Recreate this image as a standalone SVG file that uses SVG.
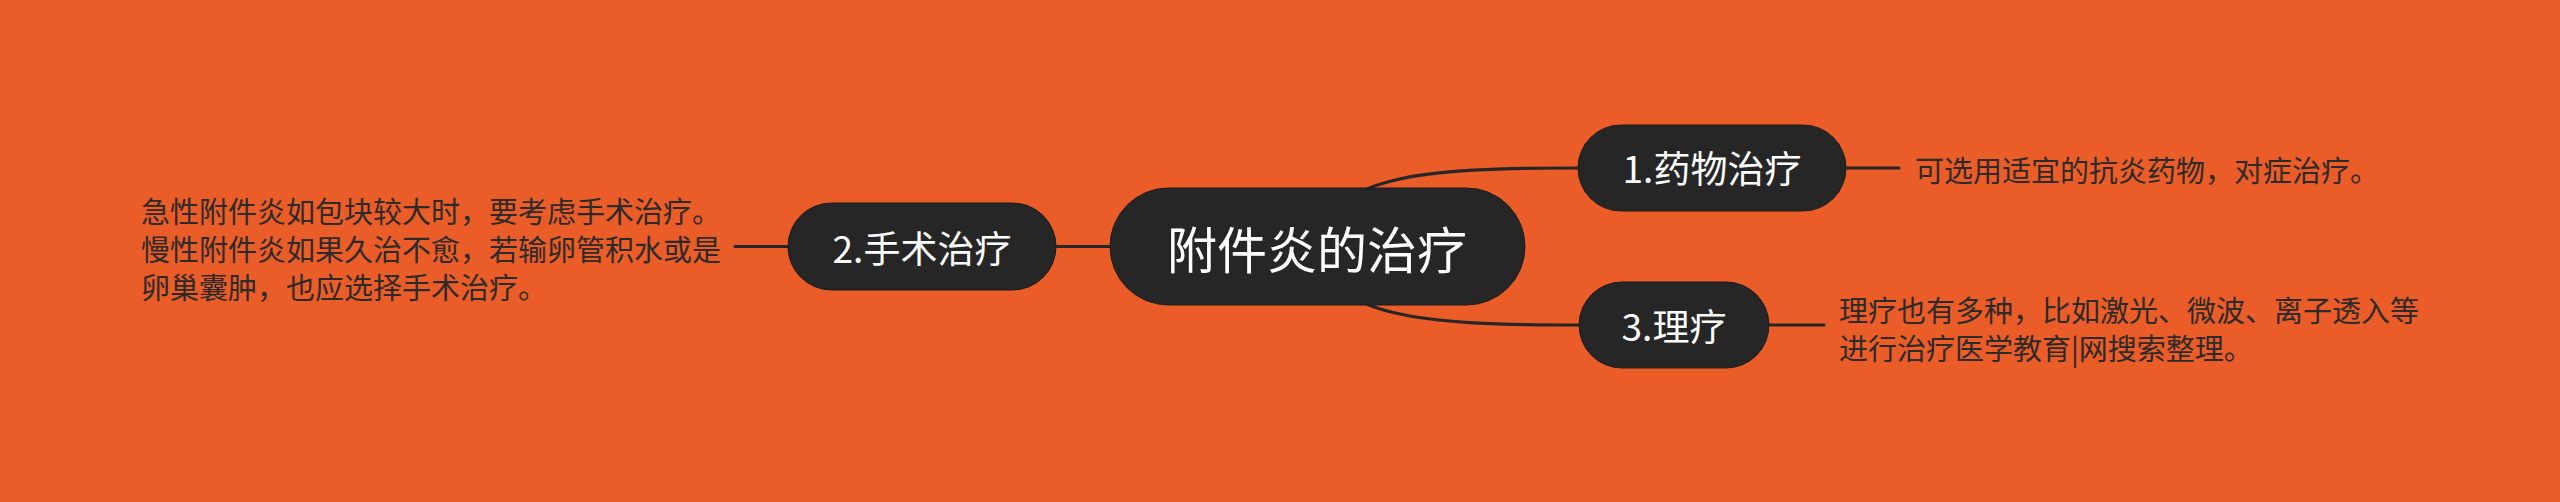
<svg xmlns="http://www.w3.org/2000/svg" width="2560" height="502" viewBox="0 0 2560 502">
<style>
.bg{fill:#EA5D29}
.node{fill:#262626;stroke:#1c1c1c;stroke-width:1}
.ntext{fill:#ffffff;font-family:"Noto Sans CJK SC","Noto Sans",sans-serif;text-anchor:middle;dominant-baseline:central}
.desc{fill:#2e2a28;font-family:"Noto Sans CJK SC","Noto Sans",sans-serif;font-size:29px;dominant-baseline:central}
.conn{fill:none;stroke:#262626;stroke-width:3.2;stroke-linecap:round}
</style>
<rect class="bg" x="0" y="0" width="2560" height="502"/>
<g id="connectors">
<path class="conn" d="M1317,246.5 C1330,175 1420,168 1580,168"/>
<path class="conn" d="M1317,246.5 C1330,318 1420,325 1580,325"/>
<path class="conn" d="M1317,246.5 L788,246.5"/>
<path class="conn" d="M1846,168 L1899,168"/>
<path class="conn" d="M1769,325 L1824,325"/>
<path class="conn" d="M735,246.5 L788,246.5"/>
</g>
<g id="root">
<rect class="node" x="1110" y="188" width="415" height="117" rx="58.5"/>
<text class="ntext" x="1317" y="246.5" font-size="50">附件炎的治疗</text>
</g>
<g id="n1">
<rect class="node" x="1578" y="125" width="268" height="86" rx="43"/>
<text class="ntext" x="1712" y="167" font-size="37">1.药物治疗</text>
</g>
<g id="n2">
<rect class="node" x="788" y="203" width="268" height="87" rx="43.5"/>
<text class="ntext" x="922" y="246.5" font-size="37">2.手术治疗</text>
</g>
<g id="n3">
<rect class="node" x="1579" y="282" width="190" height="86" rx="43"/>
<text class="ntext" x="1674" y="325" font-size="37">3.理疗</text>
</g>
<g id="d1">
<text class="desc" x="1915" y="169">可选用适宜的抗炎药物，对症治疗。</text>
</g>
<g id="d2">
<text class="desc" x="141" y="209.5">急性附件炎如包块较大时，要考虑手术治疗。</text>
<text class="desc" x="141" y="247.5">慢性附件炎如果久治不愈，若输卵管积水或是</text>
<text class="desc" x="141" y="285.5">卵巢囊肿，也应选择手术治疗。</text>
</g>
<g id="d3">
<text class="desc" x="1839" y="308.5">理疗也有多种，比如激光、微波、离子透入等</text>
<text class="desc" x="1839" y="346.5">进行治疗医学教育|网搜索整理。</text>
</g>
</svg>
